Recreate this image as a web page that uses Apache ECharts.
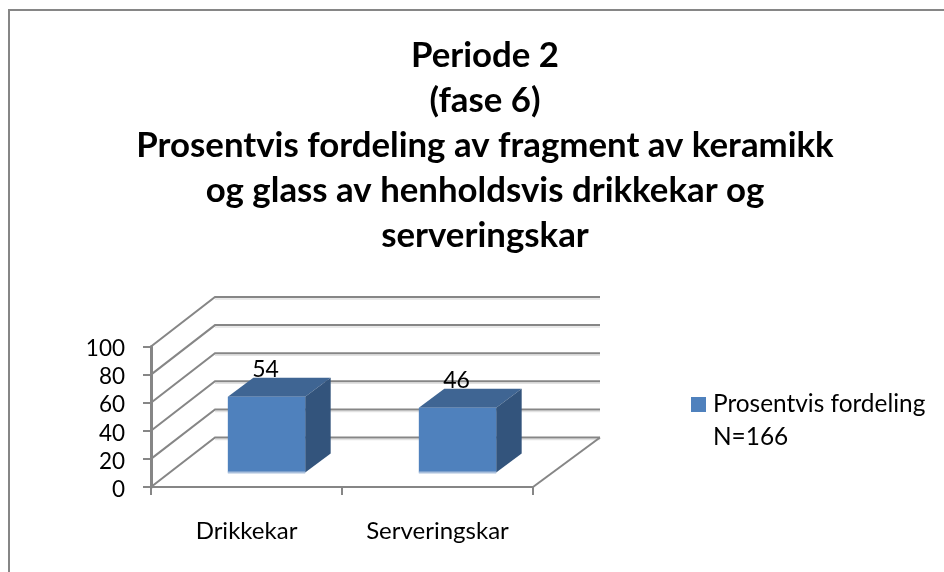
<!DOCTYPE html>
<html>
<head>
<meta charset="utf-8">
<script src="https://cdn.jsdelivr.net/npm/echarts@6/dist/echarts.min.js"></script>
<style>html,body{margin:0;padding:0;background:#fff}#c{width:944px;height:572px}</style>
</head>
<body>
<div id="c"></div>
<script>
const titleText = "Periode 2\n(fase 6)\nProsentvis fordeling av fragment av keramikk\nog glass av henholdsvis drikkekar og\nserveringskar";
const categories = ["Drikkekar", "Serveringskar"];
const values = [54, 46];
const gridValues = [0, 20, 40, 60, 80, 100];
const seriesName = "Prosentvis fordeling\nN=166";

const FONT = "Lato";
const GRID_COLOR = "#868686";
const SHADOW_COLOR = "#e2e2e2";
const WALL_DX = 64, WALL_DY = 49.5, WALL_RIGHT_EXTRA = 3;
const BAR_DX = 20, BAR_DY = 14.5, BAR_DEPTH_X = 25.5, BAR_DEPTH_Y = 19;
const BAR_WIDTH_RATIO = 0.405;

function renderWall(params, api) {
  const v = api.value(0);
  const start = api.coord([0, v]);
  const band = api.size([1, 0])[0];
  const x0 = start[0] - band / 2;
  const y = start[1];
  const xEnd = x0 + band * categories.length;
  const pts = [[x0, y], [x0 + WALL_DX, y - WALL_DY], [xEnd + WALL_DX + WALL_RIGHT_EXTRA, y - WALL_DY]];
  const children = [
    { type: "line", shape: { x1: pts[1][0], y1: pts[1][1] + 2, x2: pts[2][0], y2: pts[2][1] + 2 },
      style: { stroke: SHADOW_COLOR, lineWidth: 1.5 } },
    { type: "polyline", shape: { points: pts },
      style: { stroke: GRID_COLOR, lineWidth: 2, fill: null } }
  ];
  if (v === 0) {
    children.push({ type: "line",
      shape: { x1: xEnd, y1: y, x2: xEnd + WALL_DX + WALL_RIGHT_EXTRA, y2: y - WALL_DY },
      style: { stroke: GRID_COLOR, lineWidth: 2 } });
  }
  return { type: "group", children };
}

function renderBar(params, api) {
  const i = api.value(0), v = api.value(1);
  const top = api.coord([i, v]);
  const base = api.coord([i, 0]);
  const w = api.size([1, 0])[0] * BAR_WIDTH_RATIO;
  const l = top[0] + BAR_DX - w / 2, r = l + w;
  const t = top[1] - BAR_DY, b = base[1] - BAR_DY;
  const dx = BAR_DEPTH_X, dy = BAR_DEPTH_Y;
  return { type: "group", children: [
    { type: "polygon", shape: { points: [[l, t], [r, t], [r + dx, t - dy], [l + dx, t - dy]] },
      style: { fill: "#3f6593" } },
    { type: "polygon", shape: { points: [[r, t], [r + dx, t - dy], [r + dx, b - dy], [r, b]] },
      style: { fill: "#33547c" } },
    { type: "rect", shape: { x: l, y: t, width: w, height: b - t },
      style: { fill: "#4f81bd" } },
    { type: "rect", shape: { x: l, y: b - 1, width: w, height: 2 },
      style: { fill: "#a9bfdc" } },
    { type: "text", x: (l + r) / 2 - 1, y: t - 27,
      style: { text: String(v), fill: "#000", font: "23px " + FONT, align: "center", verticalAlign: "middle" } }
  ] };
}

const chart = echarts.init(document.getElementById("c"), null, { renderer: "canvas" });
chart.setOption({
  animation: false,
  backgroundColor: "#fff",
  title: {
    text: titleText, left: 480, top: 28.5, textAlign: "center",
    textStyle: { fontFamily: FONT, fontWeight: "bold", fontSize: 34.8, lineHeight: 45, color: "#000" }
  },
  legend: {
    left: 691, top: 388, padding: 0, itemWidth: 15, itemHeight: 48, itemGap: 0, selectedMode: false,
    textStyle: { fontFamily: FONT, fontSize: 24.4, lineHeight: 33, color: "#000", padding: [0, 0, 0, 2] },
    data: [{ name: seriesName, icon: "path://M0,0L15,0L15,15L0,15ZM0,48L15,48Z", itemStyle: { color: "#4f81bd" } }]
  },
  graphic: [{
    type: "rect", silent: true, z: -10,
    shape: { x: 9, y: 10, width: 940, height: 565 },
    style: { fill: null, stroke: GRID_COLOR, lineWidth: 2 }
  }],
  grid: { left: 151, right: 411, top: 346.5, bottom: 85 },
  xAxis: {
    type: "category", data: categories, boundaryGap: true,
    axisLine: { onZero: false, lineStyle: { color: GRID_COLOR, width: 2 } },
    axisTick: { show: true, alignWithLabel: false, length: 8, lineStyle: { color: GRID_COLOR, width: 2 } },
    axisLabel: { fontFamily: FONT, fontSize: 24, color: "#000", margin: 32 }
  },
  yAxis: {
    type: "value", min: 0, max: 100, interval: 20,
    axisLine: { show: true, lineStyle: { color: GRID_COLOR, width: 3 } },
    axisTick: { show: true, length: 8, lineStyle: { color: GRID_COLOR, width: 2 } },
    axisLabel: { margin: 26, formatter: "{a|{value}}",
      rich: { a: { fontFamily: FONT, fontSize: 22.5, color: "#000", padding: [5, 0, 0, 0] } } },
    splitLine: { show: false }
  },
  series: [
    { type: "custom", name: "walls", clip: false, silent: true, z: 1,
      renderItem: renderWall, data: gridValues.map(v => [v]), encode: { x: -1, y: 0 } },
    { type: "custom", name: seriesName, clip: false, silent: true, z: 3,
      itemStyle: { color: "#4f81bd" },
      renderItem: renderBar, data: values.map((v, i) => [i, v]), encode: { x: 0, y: 1 } }
  ]
});
</script>
</body>
</html>
